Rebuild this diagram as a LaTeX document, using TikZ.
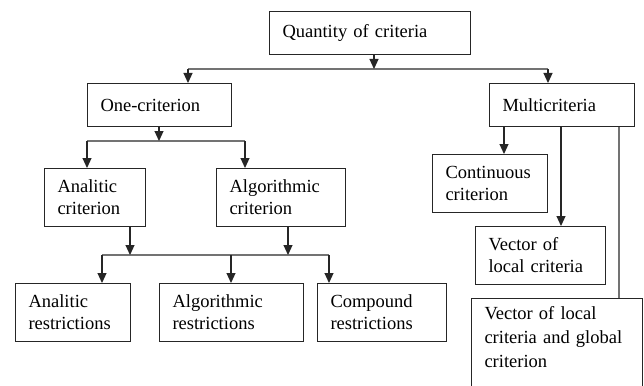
\documentclass[tikz,border=0pt]{standalone}
\usepackage{fontspec}
\setmainfont{Liberation Serif}
\usetikzlibrary{arrows.meta}
\begin{document}
\begin{tikzpicture}[x=1pt,y=-1pt,
  bx/.style={draw=black!85,line width=1pt,anchor=north west,inner xsep=13pt,inner ysep=2pt,
    align=left,font=\fontsize{18.5}{22}\selectfont,fill=white},
  conn/.style={draw=black!85,line width=1.1pt},
  hline/.style={draw=black!55,line width=1.3pt},
  arr/.style={conn,-{Triangle[width=9pt,length=10pt]}}]
\clip (0,0) rectangle (644,385);
\fill[white] (0,0) rectangle (644,385);
% boxes
\node[bx,text width=175pt,minimum height=43pt] (Q) at (269,11) {Quantity of criteria};
\node[bx,text width=118pt,minimum height=43pt] (One) at (87,83) {One-criterion};
\node[bx,text width=119pt,minimum height=43pt] (Multi) at (489,83) {Multicriteria};
\node[bx,text width=75pt,minimum height=58pt] (AnC) at (44,168) {Analitic\\criterion};
\node[bx,text width=103pt,minimum height=58pt] (AlC) at (216,168) {Algorithmic\\criterion};
\node[bx,text width=89pt,minimum height=58pt] (AnR) at (15,283) {Analitic\\restrictions};
\node[bx,text width=118pt,minimum height=58pt] (AlR) at (159,283) {Algorithmic\\restrictions};
\node[bx,text width=103pt,minimum height=58pt] (CoR) at (317,283) {Compound\\restrictions};
\node[bx,text width=89pt,minimum height=58pt] (Cont) at (432,154) {Continuous\\criterion};
\node[bx,text width=104pt,minimum height=58pt] (Vec) at (475,226) {Vector of\\local criteria};
\node[bx,text width=145pt,inner ysep=8pt,text height=13pt,text depth=80pt,
  font=\fontsize{18.5}{24}\selectfont] (VecG) at (471,298) {Vector of local\\criteria and global\\criterion};
% junction coordinates
\coordinate (j1) at (374,69);
\coordinate (h1l) at (188,69);
\coordinate (h1r) at (548,69);
\coordinate (j2) at (159,141);
\coordinate (h2l) at (87,141);
\coordinate (h2r) at (245,141);
\coordinate (j3a) at (130,255);
\coordinate (j3b) at (288,255);
\coordinate (h3l) at (102,255);
\coordinate (h3m) at (231,255);
\coordinate (h3r) at (329,255);
% level 1
\draw[hline] (h1l) -- (h1r);
\draw[arr] (Q.south -| j1) -- (j1);
\draw[arr] (h1l) -- (One.north -| h1l);
\draw[arr] (h1r) -- (Multi.north -| h1r);
% one-criterion
\draw[hline] (h2l) -- (h2r);
\draw[arr] (One.south -| j2) -- (j2);
\draw[arr] (h2l) -- (AnC.north -| h2l);
\draw[arr] (h2r) -- (AlC.north -| h2r);
% restrictions
\draw[hline] (h3l) -- (h3r);
\draw[arr] (AnC.south -| j3a) -- (j3a);
\draw[arr] (AlC.south -| j3b) -- (j3b);
\draw[arr] (h3l) -- (AnR.north -| h3l);
\draw[arr] (h3m) -- (AlR.north -| h3m);
\draw[arr] (h3r) -- (CoR.north -| h3r);
% multicriteria
\coordinate (m1) at (504,0);
\coordinate (m2) at (561,0);
\coordinate (m3) at (619,0);
\draw[arr] (Multi.south -| m1) -- (Cont.north -| m1);
\draw[arr] (Multi.south -| m2) -- (Vec.north -| m2);
\draw[hline] (Multi.south -| m3) -- (VecG.north -| m3);
\end{tikzpicture}
\end{document}
